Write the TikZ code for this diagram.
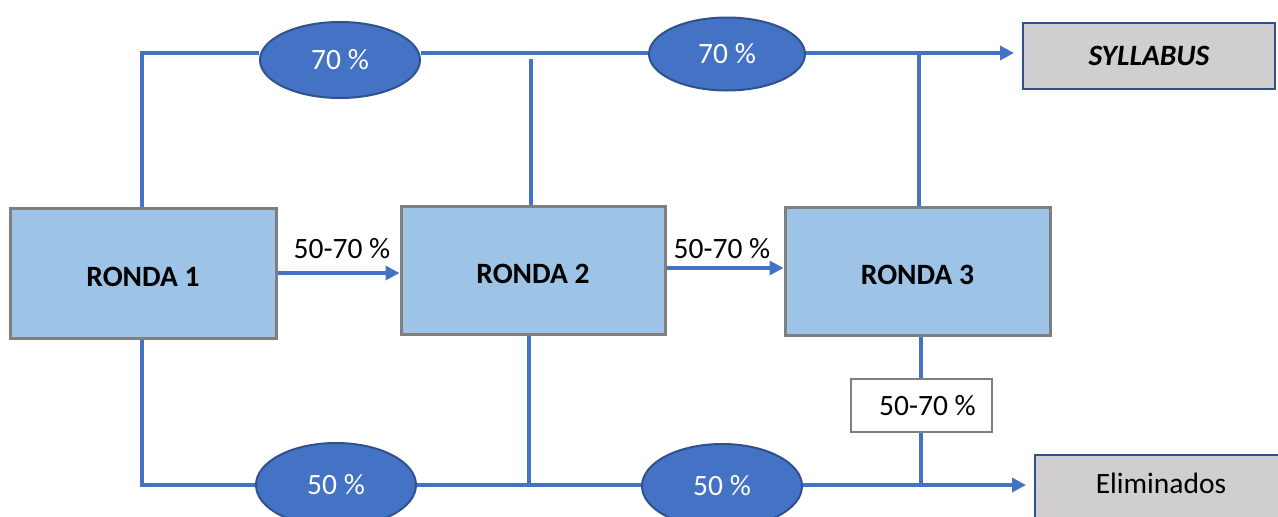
\documentclass[tikz,border=0pt]{standalone}
\usepackage{fontspec}
\setmainfont{Carlito}
\usetikzlibrary{shapes.geometric,arrows.meta}
\definecolor{flow}{HTML}{4472C4}
\definecolor{flowdark}{HTML}{2F528F}
\definecolor{roundfill}{HTML}{9DC3E6}
\definecolor{roundedge}{HTML}{7F7F7F}
\definecolor{outfill}{HTML}{D0CECE}
\newcommand{\diagfont}{\fontsize{29.5}{34}\selectfont}
\tikzset{
  roundbox/.style={draw=roundedge, line width=3pt, fill=roundfill, inner sep=0pt,
    text height=27pt, text depth=0pt, font=\diagfont\bfseries},
  pctoval/.style={ellipse, draw=flowdark, line width=2pt, fill=flow, inner sep=0pt,
    minimum width=160pt, text=white, font=\diagfont},
  outbox/.style={draw=flowdark, line width=2pt, fill=outfill, inner sep=0pt,
    font=\diagfont},
  flowline/.style={draw=flow, line width=4pt},
  flowarrow/.style={flowline, -{Triangle[length=14pt,width=14pt]}},
  pctlabel/.style={inner sep=0pt, font=\diagfont},
  pctbox/.style={draw=roundedge, line width=1.2pt, fill=white, inner sep=0pt,
    minimum width=141pt, minimum height=53pt, font=\diagfont},
}
\begin{document}
\begin{tikzpicture}[x=1pt,y=-1pt]
\useasboundingbox (0,0) rectangle (1278,517);

% rounds
\node[roundbox, minimum width=266pt, minimum height=130pt] (r1) at (143,273) {RONDA 1};
\node[roundbox, minimum width=264pt, minimum height=128pt] (r2) at (533,270) {RONDA 2};
\node[roundbox, minimum width=265pt, minimum height=128pt] (r3) at (917.5,271) {RONDA 3};

% outcomes
\node[outbox, minimum width=252pt, minimum height=66pt] (syl) at (1149,56) {\itshape\bfseries SYLLABUS};
\node[outbox, minimum width=260pt, minimum height=90pt] (elim) at (1165,500) {};
\node[pctlabel] (elimtext) at (1161,483) {Eliminados};

% percentage ovals
\node[pctoval, minimum height=76pt] (e1) at (340,60) {70 \%};
\node[pctoval, minimum width=156pt, minimum height=73pt] (e2) at (727,54) {70 \%};
\node[pctoval, minimum height=84pt] (e3) at (336,485) {50 \%};
\node[pctoval, minimum height=84pt] (e4) at (722,486) {50 \%};

% junction points
\coordinate (tl) at (142,53);
\coordinate (bl) at (142,485);
\coordinate (t2) at (531,59);
\coordinate (b2) at (529,485);
\coordinate (t3) at (919,53);
\coordinate (b3) at (921,485);

% upper path
\draw[flowline] (r1.north -| tl) -- (tl) -- (e1.west |- tl);
\draw[flowline] (e1.east |- tl) -- (e2.west |- tl);
\draw[flowarrow, shorten >=8pt] (e2.east |- tl) -- (syl.west |- tl);
\draw[flowline] (r2.north -| t2) -- (t2);
\draw[flowline] (r3.north -| t3) -- (t3);

% lower path
\draw[flowline] (r1.south -| bl) -- (bl) -- (e3.west |- bl);
\draw[flowline] (e3.east |- bl) -- (e4.west |- bl);
\draw[flowarrow, shorten >=8pt] (e4.east |- bl) -- (elim.west |- bl);
\draw[flowline] (r2.south -| b2) -- (b2);

% round to round
\draw[flowarrow] (r1.east |- 0,273) -- (r2.west |- 0,273);
\draw[flowarrow] (r2.east |- 0,268) -- (r3.west |- 0,268);
\node[pctlabel] (l12) at (342,249) {50-70 \%};
\node[pctlabel] (l23) at (722,249) {50-70 \%};

% round 3 to eliminated
\node[pctbox] (l3) at (921.5,405.5) {\hspace*{12pt}50-70 \%};
\draw[flowline] (r3.south -| b3) -- (l3.north -| b3);
\draw[flowline] (l3.south -| b3) -- (b3);
\end{tikzpicture}
\end{document}
